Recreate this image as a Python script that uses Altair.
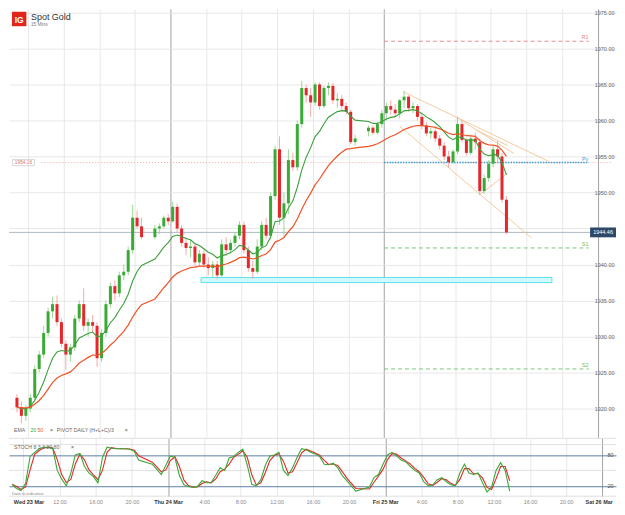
import altair as alt
import pandas as pd

# ---------------- values (30-minute bars) ----------------
# session 1: Wed 23 Mar 06:30 - 20:30
s1_span = ("2022-03-23 06:30", "2022-03-23 20:30")
s1_open = 1921.5
s1_high = [1922, 1921, 1920.5, 1922, 1926, 1928, 1931.5, 1934, 1935.5, 1935.7,
           1932.5, 1929.5, 1929, 1933, 1935, 1936.7, 1932.5, 1933, 1932, 1931,
           1935, 1937.5, 1937.8, 1939, 1940, 1942.5, 1948.3, 1947.5, 1946.5]
s1_low = [1919.5, 1918, 1918.3, 1919.5, 1921, 1925, 1927, 1930, 1932.5, 1931.5,
          1928.5, 1925.4, 1926.5, 1928, 1932, 1930.8, 1930, 1930.5, 1925.8, 1926.5,
          1930, 1934, 1935, 1935.5, 1937.8, 1938.5, 1941.5, 1945, 1943.5]
s1_close = [1920.2, 1919, 1920, 1921.5, 1925.5, 1927.5, 1930.5, 1933.5, 1934.5, 1932,
            1929, 1927.5, 1928.5, 1932.5, 1934.5, 1931.5, 1932, 1931.5, 1927, 1930.5,
            1934.5, 1937, 1936, 1938.5, 1939, 1942, 1946.5, 1945.3, 1943.8]

# session 2: Wed 23 Mar 22:00 - Thu 24 Mar 20:30
s2_span = ("2022-03-23 22:00", "2022-03-24 20:30")
s2_open = 1943.8
s2_high = [1945.5, 1945.7, 1946.8, 1947, 1948.7, 1948.5, 1945.5, 1943.8, 1943.5, 1943,
           1942, 1942, 1941, 1940.5, 1940.5, 1943.5, 1943.8, 1943.5, 1944.5, 1946,
           1946, 1942.5, 1940.5, 1943.5, 1946, 1946.5, 1950, 1956.5, 1957.8, 1950,
           1956, 1955.5, 1960, 1965.5, 1965, 1964.5, 1965.3, 1965.3, 1964.8, 1965.3,
           1965.2, 1963.8, 1963.5, 1962.5, 1961.5, 1958]
s2_low = [1943.5, 1944.2, 1945, 1945.5, 1945.8, 1944.5, 1942.5, 1941.3, 1941, 1939.7,
          1939.8, 1939.5, 1938.5, 1938.3, 1938, 1938.3, 1941.3, 1941.5, 1942.5, 1943.5,
          1941.5, 1939, 1938, 1938.7, 1942, 1943.5, 1943.5, 1949, 1945.5, 1944,
          1947, 1953, 1953, 1959, 1962.5, 1960.5, 1962, 1961.5, 1961.7, 1963.5,
          1962.3, 1961.8, 1961.5, 1960.8, 1956.7, 1956.5]
s2_close = [1945, 1945.3, 1946.5, 1946, 1948, 1945, 1943, 1942.3, 1942.5, 1940.3,
            1941.5, 1940, 1939.5, 1940, 1938.5, 1942.8, 1942, 1943, 1944, 1945.5,
            1942, 1939.5, 1939, 1942.5, 1945.5, 1944, 1949.5, 1956, 1946.5, 1948.5,
            1954.5, 1953.5, 1959.5, 1964.5, 1963.5, 1962.5, 1965, 1962, 1964.5, 1964.8,
            1962.8, 1963, 1962, 1961.2, 1957, 1957.5]

# session 3: Thu 24 Mar 22:00 - Fri 25 Mar 13:30
s3_span = ("2022-03-24 22:00", "2022-03-25 13:30")
s3_open = 1958.5
s3_high = [1959.3, 1959.3, 1959.8, 1961.5, 1962.5, 1962.8, 1962.3, 1963, 1964.1, 1963.5,
           1962.5, 1962.3, 1961, 1959.8, 1959, 1959, 1958, 1957, 1955.8, 1956,
           1960.5, 1960, 1957.5, 1958, 1958.3, 1957.5, 1952.5, 1954.5, 1956.5, 1957.1,
           1955.5, 1949.5]
s3_low = [1957.8, 1958, 1958, 1959, 1960, 1960.8, 1960.5, 1960.3, 1961.7, 1961.2,
          1961, 1960, 1958.8, 1957.8, 1957.5, 1957, 1956, 1954.5, 1953.4, 1954,
          1955.3, 1957, 1955.1, 1955.2, 1956, 1949.6, 1949.8, 1951.5, 1953.5, 1954,
          1948.6, 1944.2]
s3_close = [1959, 1958.3, 1959.5, 1961, 1962, 1961.5, 1961, 1962.8, 1963.3, 1961.7,
            1962, 1960.5, 1959.3, 1958.2, 1958.5, 1957.5, 1956.5, 1955, 1954.2, 1955.7,
            1959.5, 1957.3, 1955.5, 1957.5, 1957, 1950.2, 1952, 1954, 1956, 1955,
            1949, 1944.46]

# stochastic %K (green line) read per bar
stoch_k_s1 = [23, 15, 11, 25, 77, 85, 92, 95, 95, 92, 50, 33, 20, 45, 80, 83, 58, 45, 38, 26,
              75, 95, 93, 92, 92, 92, 91, 87, 70]
stoch_k_s2 = [62, 52, 42, 60, 78, 75, 40, 22, 19, 17, 19, 30, 26, 26, 40, 55, 50, 74, 77, 85,
              91, 60, 23, 20, 32, 60, 78, 80, 85, 50, 40, 55, 75, 92, 90, 85, 82, 77, 62, 61,
              64, 55, 40, 30, 20, 10]
stoch_k_s3 = [18, 36, 42, 62, 80, 85, 78, 70, 67, 58, 50, 45, 28, 20, 22, 32, 36, 28, 22, 20,
              45, 62, 45, 42, 45, 26, 8, 18, 50, 65, 50, 10]

# daily pivot levels
piv_names = ["R1", "Pv", "S1", "S2"]
piv_values = [1971.0, 1954.16, 1942.3, 1925.5]
piv_colors = ["#e97f7f", "#3a9fd6", "#6cbf6c", "#6cbf6c"]
piv_start, piv_end = "2022-03-25 00:00", "2022-03-25 23:00"
prev_pivot = 1954.16
prev_pivot_span = ("2022-03-23 09:30", "2022-03-26 01:30")
last_price = 1944.46

# support zone
zone_t1, zone_t2 = ["2022-03-24 03:26"], ["2022-03-25 18:52"]
zone_lo, zone_hi = [1937.5], [1938.2]

# hand-drawn trend lines
tl_t1 = ["2022-03-25 02:08", "2022-03-25 01:45", "2022-03-25 08:10", "2022-03-25 10:19", "2022-03-25 10:51"]
tl_p1 = [1964.0, 1959.2, 1960.4, 1958.7, 1949.8]
tl_t2 = ["2022-03-25 18:32", "2022-03-25 16:34", "2022-03-25 14:36", "2022-03-25 13:54", "2022-03-25 13:54"]
tl_p2 = [1954.3, 1943.7, 1955.4, 1956.5, 1952.7]

price_ticks = list(range(1920, 1976, 5))
time_ticks = [(23, 8), (23, 12), (23, 16), (23, 20), (24, 0), (24, 4), (24, 8), (24, 12), (24, 16),
              (24, 20), (25, 0), (25, 4), (25, 8), (25, 12), (25, 16), (25, 20), (26, 0)]
stoch_levels = [20, 80]
stoch_grid = [0, 50, 100, 112]

# ---------------- tables ----------------
def session(span, o, h, l, c):
    t = pd.date_range(span[0], span[1], freq="30min")
    return pd.DataFrame({"t": t, "open": [o] + c[:-1], "high": h, "low": l, "close": c})

bars = pd.concat([session(s1_span, s1_open, s1_high, s1_low, s1_close),
                  session(s2_span, s2_open, s2_high, s2_low, s2_close),
                  session(s3_span, s3_open, s3_high, s3_low, s3_close)], ignore_index=True)
bars["time"] = (bars["t"] + pd.Timedelta(minutes=15)).dt.strftime("%Y-%m-%dT%H:%M:%S")
bars = bars.drop(columns="t")
# EMA 20 / 50 of 15-minute bars == spans 10.5 / 25.5 on 30-minute bars
bars["ema20"] = bars["close"].ewm(span=10.5, adjust=False).mean()
bars["ema50"] = bars["close"].ewm(span=25.5, adjust=False).mean()
bars["k"] = stoch_k_s1 + stoch_k_s2 + stoch_k_s3
bars["d"] = bars["k"].rolling(2, min_periods=1).mean()

piv_df = pd.DataFrame({"name": piv_names, "value": piv_values, "start": piv_start, "end": piv_end})
prev_df = pd.DataFrame({"value": [prev_pivot], "start": [prev_pivot_span[0]], "end": [prev_pivot_span[1]]})
zone_df = pd.DataFrame({"t1": zone_t1, "t2": zone_t2, "lo": zone_lo, "hi": zone_hi})
tl_df = pd.DataFrame({"t1": tl_t1, "p1": tl_p1, "t2": tl_t2, "p2": tl_p2})
last_df = pd.DataFrame({"v": [last_price]})

# ---------------- scales / axes ----------------
W, H1, H2 = 609, 430, 58
FONT = "Liberation Sans"
xs = alt.Scale(domain=[alt.DateTime(year=2022, month=3, date=23, hours=6, minutes=25),
                       alt.DateTime(year=2022, month=3, date=26, hours=1, minutes=30)])
ys = alt.Scale(domain=[1916, 1975.5], nice=False, zero=False)
ss = alt.Scale(domain=[0, 112], nice=False, zero=False)
tick_values = [alt.DateTime(year=2022, month=3, date=d, hours=h) for d, h in time_ticks]

day_test = "hours(datum.value) == 0"
grid_color = {"condition": {"test": day_test, "value": "#8c8c8c"}, "value": "#e2e2e2"}

x_axis_main = alt.Axis(values=tick_values, labels=False, ticks=False, domain=False,
                       grid=True, gridColor=grid_color, gridWidth=0.8, title=None)
x_axis_bottom = alt.Axis(
    values=tick_values, grid=True, gridColor=grid_color, gridWidth=0.8, title=None,
    ticks=False, domain=False, labelFontSize=5.5, labelPadding=3, labelOverlap=False,
    labelFlush=20, labelFlushOffset=10,
    labelExpr=("(datum.index == 0 || hours(datum.value) == 0) ? timeFormat(datum.value, '%a %d %b')"
               " : timeFormat(datum.value, '%-H:%M')"),
    labelColor={"condition": {"test": day_test + " || datum.index == 0", "value": "#333333"}, "value": "#8a8a8a"},
    labelFontWeight={"condition": {"test": day_test + " || datum.index == 0", "value": "bold"}, "value": "normal"},
)
# the 1945 label sits under the last-price box in the reference
y_axis_main = alt.Axis(orient="right", values=price_ticks, labelAlign="right",
                       labelExpr="datum.value == 1945 ? '' : format(datum.value, '.2f')",
                       labelPadding=0, offset=-2, labelFontSize=5.5, labelColor="#666666",
                       ticks=False, domain=False, gridColor="#e2e2e2", gridWidth=0.8, title=None)
y_axis_stoch = alt.Axis(orient="right", values=stoch_levels, format="d", labelAlign="right",
                        labelPadding=0, offset=-3, labelFontSize=5.5, labelColor="#555555",
                        ticks=False, domain=False, gridColor="#5d7fa5", gridWidth=1, title=None)

def X(f):
    return alt.X(f"{f}:T", scale=xs, axis=x_axis_main, title=None)

def XB(f):
    return alt.X(f"{f}:T", scale=xs, axis=x_axis_bottom, title=None)

def Y(f):
    return alt.Y(f"{f}:Q", scale=ys, axis=y_axis_main, title=None)

def S(f):
    return alt.Y(f"{f}:Q", scale=ss, axis=y_axis_stoch, title=None)

def label(txt, x, y, size=5.2, color="#666666", weight="normal", align="left"):
    return alt.Chart(pd.DataFrame({"t": [txt]})).mark_text(
        fontSize=size, color=color, fontWeight=weight, align=align, baseline="middle", font=FONT
    ).encode(text="t:N", x=alt.value(x), y=alt.value(y))

piv_color = alt.Color("name:N", scale=alt.Scale(domain=piv_names, range=piv_colors), legend=None)
up = "datum.close >= datum.open"

# ---------------- main price panel ----------------
zone = alt.Chart(zone_df).mark_rect(fill="#cffafc", stroke="#3fdde8", strokeWidth=0.8).encode(
    x=X("t1"), x2="t2", y=Y("lo"), y2="hi")
prev_line = alt.Chart(prev_df).mark_rule(strokeDash=[1, 2], strokeWidth=0.9, color="#f2a391").encode(
    x=X("start"), x2="end", y=Y("value"))
piv_dashed = alt.Chart(piv_df[piv_df["name"] != "Pv"]).mark_rule(strokeDash=[4, 3], strokeWidth=0.9).encode(
    x=X("start"), x2="end", y=Y("value"), color=piv_color)
piv_dotted = alt.Chart(piv_df[piv_df["name"] == "Pv"]).mark_rule(strokeDash=[1.5, 1.2], strokeWidth=1.6).encode(
    x=X("start"), x2="end", y=Y("value"), color=piv_color)
piv_text = alt.Chart(piv_df).mark_text(fontSize=5.5, dy=-4, font=FONT).encode(
    x=alt.value(578), y=Y("value"), text="name:N", color=piv_color)
last_line = alt.Chart(last_df).mark_rule(color="#9aa6b8", strokeWidth=0.8).encode(y=Y("v"))
trend = alt.Chart(tl_df).mark_rule(color="#f3c596", strokeWidth=0.9).encode(
    x=X("t1"), x2="t2", y=Y("p1"), y2="p2")
wicks = alt.Chart(bars).mark_rule(strokeWidth=0.9).encode(
    x=X("time"), y=Y("low"), y2="high",
    color=alt.condition(up, alt.value("#8fd48a"), alt.value("#f5a0a0")))
bodies = alt.Chart(bars).mark_bar(size=3).encode(
    x=X("time"), y=Y("open"), y2="close",
    color=alt.condition(up, alt.value("#3aa935"), alt.value("#e5262b")))
ema20 = alt.Chart(bars).mark_line(color="#3c9f3c", strokeWidth=1.1).encode(x=X("time"), y=Y("ema20"))
ema50 = alt.Chart(bars).mark_line(color="#ef5426", strokeWidth=1.2).encode(x=X("time"), y=Y("ema50"))

rect_path = "M-1,-0.38L1,-0.38L1,0.38L-1,0.38Z"
flat_path = "M-1,-0.28L1,-0.28L1,0.28L-1,0.28Z"
last_box = alt.Chart(last_df).mark_point(shape=rect_path, size=26 * 26, filled=True, color="#2e4868", opacity=1).encode(
    x=alt.value(596), y=Y("v"))
last_txt = alt.Chart(last_df).mark_text(color="white", fontSize=5.5, font=FONT).encode(
    x=alt.value(596), y=Y("v"), text=alt.Text("v:Q", format=".2f"))
prev_box = alt.Chart(prev_df).mark_point(shape=flat_path, size=22 * 22, filled=True, fill="white",
                                         stroke="#c8c8c8", strokeWidth=0.7, opacity=1).encode(
    x=alt.value(14.5), y=Y("value"))
prev_txt = alt.Chart(prev_df).mark_text(color="#e0734f", fontSize=4.8, font=FONT).encode(
    x=alt.value(14.5), y=Y("value"), text=alt.Text("value:Q", format=".2f"))

logo = alt.Chart(pd.DataFrame({"t": ["IG"]})).mark_point(shape="square", size=210, filled=True,
                                                         color="#e1251b", opacity=1).encode(
    x=alt.value(10.2), y=alt.value(10.2))

main = alt.layer(
    zone, prev_line, piv_dashed, piv_dotted, last_line, trend, wicks, bodies, ema20, ema50,
    piv_text, last_box, last_txt, prev_box, prev_txt, logo,
    label("IG", 10.2, 10.8, 8.5, "white", "bold", "center"),
    label("Spot Gold", 22, 8.5, 9, "#333333"),
    label("15 Mins", 22, 16, 4.8, "#777777"),
    label("EMA", 5, 423), label("20", 21.5, 423, color="#3aa935"), label("50", 28.5, 423, color="#ef5426"),
    label("×", 41, 423, 6), label("PIVOT  DAILY  (H+L+C)/3", 48, 423), label("×", 116, 423, 6),
).properties(width=W, height=H1)

# ---------------- stochastic panel ----------------
st_grid = alt.Chart(pd.DataFrame({"v": stoch_grid})).mark_rule(color="#d8d8d8", strokeWidth=0.8).encode(y=S("v"))
k_line = alt.Chart(bars).mark_line(color="#3aa935", strokeWidth=1.1).encode(x=XB("time"), y=S("k"))
d_line = alt.Chart(bars).mark_line(color="#e5262b", strokeWidth=1.1).encode(x=XB("time"), y=S("d"))

stoch = alt.layer(
    st_grid, d_line, k_line,
    label("STOCH  8  3  3  20  80", 5, 9), label("×", 62, 9, 6),
    label("Data is indicative", 3, 55.5, 4.2, "#888888"),
).properties(width=W, height=H2)

chart = alt.vconcat(main, stoch, spacing=0).properties(padding=0, background="white") \
    .configure(font=FONT).configure_view(stroke=None)

chart.save("out.html", embed_options={"renderer": "svg", "actions": False})
